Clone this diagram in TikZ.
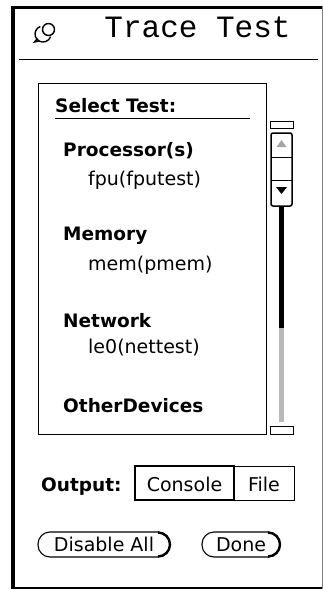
\documentclass[tikz,border=0pt]{standalone}
\usepackage{fontspec}
\setmainfont{DejaVu Sans}
\newfontfamily\titlefont{Liberation Mono}
\begin{document}
\begin{tikzpicture}[x=1pt,y=-1pt,
  lbl/.style={inner sep=0pt,anchor=base west},
  head/.style={lbl,font=\fontsize{18.5}{20}\selectfont\bfseries},
  item/.style={lbl,font=\fontsize{19}{21}\selectfont},
  thin/.style={draw=black,line width=1pt},
  pill/.style={draw=black,line width=1.1pt,rounded corners=12pt},
  pillshade/.style={line width=2.4pt},
]
\useasboundingbox (0,0) rectangle (323,590);
\fill[white] (0,0) rectangle (323,590);

% window frame
\draw[line width=3pt] (11,7) -- (322,7);
\draw[line width=4pt] (12.5,6) -- (12.5,589);
\draw[line width=1.5pt] (11,588) -- (322,588);
\draw[gray,line width=1pt] (322,6) -- (322,589);

% header: pin glyph and title
\begin{scope}[line width=1.4pt]
  \draw (48.5,29.5) circle (6);
  \draw (40.3,26.5) arc[start angle=250,end angle=20,radius=8];
  \draw (37.5,38.5) -- (34.5,42) -- (39,41);
\end{scope}
\node[inner sep=0pt,anchor=base,font=\titlefont\fontsize{31}{33}\selectfont]
  (title) at (197.5,37) {Trace Test};
\draw[line width=1pt] (19,59) -- (318,59);

% scrolling list
\draw[thin] (38,83) rectangle (266,434);
\node[head] (sel) at (55,112) {Select Test:};
\draw[line width=1pt] (55,118) -- (250,118);
\node[head] (proc) at (63,156) {Processor(s)};
\node[item] (fpu)  at (88,185) {fpu(fputest)};
\node[head] (mem)  at (63,240) {Memory};
\node[item] (pmem) at (88,270) {mem(pmem)};
\node[head] (net)  at (63,327) {Network};
\node[item] (le)   at (88,353) {le0(nettest)};
\node[head] (oth)  at (63,412) {OtherDevices};

% scrollbar
\draw[thin] (270,121) rectangle (293,128);
\draw[line width=1.5pt,rounded corners=2pt] (271,133) rectangle (292,206);
\draw[line width=1pt] (271,157) -- (292,157);
\draw[line width=1pt] (271,180) -- (292,180);
\fill[gray!70] (281.5,140) -- (286.5,147) -- (276.5,147) -- cycle;
\fill[black] (276,187) -- (287,187) -- (281.5,194) -- cycle;
\fill[black] (279,206) rectangle (284,328);
\fill[gray!55] (279,328) rectangle (284,422);
\draw[thin] (270,426) rectangle (293,434);

% output choice
\node[head] (outl) at (41,491) {Output:};
\draw[line width=2pt] (135,466) rectangle (234,500);
\draw[line width=1pt] (234,466) rectangle (294,500);
\node[item,anchor=base] (cons) at (184.5,491) {Console};
\node[item,anchor=base] (file) at (264,491) {File};

% buttons
\draw[pill] (38,532) rectangle (170,557);
\draw[pillshade] (158,532.5) arc[start angle=-90,end angle=90,radius=12];
\node[item,anchor=base] (dis) at (104,551) {Disable All};
\draw[pill] (202,532) rectangle (280,557);
\draw[pillshade] (268,532.5) arc[start angle=-90,end angle=90,radius=12];
\node[item,anchor=base] (done) at (241,551) {Done};
\end{tikzpicture}
\end{document}
